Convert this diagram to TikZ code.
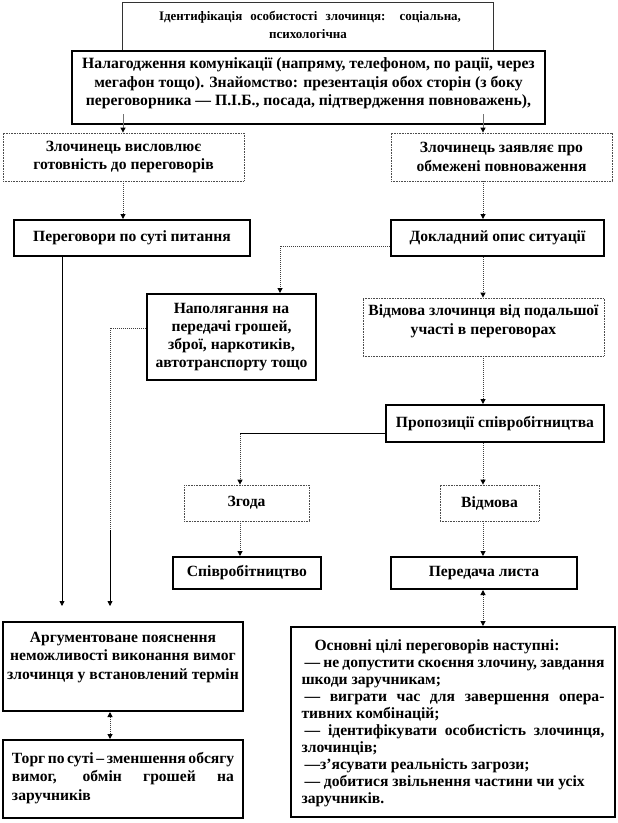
\documentclass[tikz,border=0pt]{standalone}
\usepackage{fontspec}
\setmainfont{Liberation Serif}
\usetikzlibrary{arrows.meta}
\newcommand{\mytopbox}[4]{\parbox[c][#2][t]{#1}{\centering\vspace*{#3}#4}}
\tikzset{
  every node/.style={font=\bfseries\fontsize{15.6}{18.5}\selectfont},
  box/.style={draw=black, line width=2pt, fill=white, inner sep=0pt, align=center},
  dbox/.style={draw=black!70, line width=0.8pt, dash pattern=on 0.8pt off 0.8pt, fill=white, inner sep=0pt, align=center},
  thinbox/.style={draw=black!80, line width=0.8pt, fill=white, inner sep=0pt, align=center},
  tipa/.tip={Triangle[length=5pt,width=5pt,color=black]},
  conn/.style={draw=black!75, line width=1pt, dash pattern=on 1pt off 1pt, -tipa},
  cline/.style={draw=black!75, line width=1pt, dash pattern=on 1pt off 1pt},
  sconn/.style={draw=black, line width=0.8pt, -tipa},
  sline/.style={draw=black, line width=0.8pt},
  gconn/.style={draw=black!55, line width=1pt, -tipa},
  gline/.style={draw=black!55, line width=1pt},
}
\begin{document}
\begin{tikzpicture}[x=1pt,y=-1pt]
\useasboundingbox (0,0) rectangle (618,823);
\fill[white] (0,0) rectangle (618,823);

\coordinate (colL) at (123,0);
\coordinate (colR) at (483,0);
\coordinate (colLL) at (62,0);
\coordinate (colLM) at (110,0);
\coordinate (colM) at (240,0);
\coordinate (colN) at (280,0);
\coordinate (colT) at (302,0);

% top boxes
\node[thinbox, font=\bfseries\fontsize{13}{18}\selectfont] (b1) at (308,27)
  {\mytopbox{371pt}{50pt}{9pt}{\hspace*{4pt}\makebox[302pt][s]{Ідентифікація особистості злочинця: соціальна,}\\психологічна}};
\draw[gline] (b1.south -| colT) -- ++(0,12) coordinate (b1end);
\node[box, font=\bfseries\fontsize{15.7}{18.5}\selectfont] (b2) at (308.5,87.5)
  {\mytopbox{473pt}{73pt}{7pt}{Налагодження комунікації (напряму, телефоном, по рації, через\\
   мегафон тощо). Знайомство: презентація обох сторін (з боку\\
   переговорника — П.І.Б., посада, підтвердження повноважень),}};

\node[dbox, minimum width=241pt, minimum height=48pt] (b3) at (123.5,157)
  {Злочинець висловлює\\готовність до переговорів};
\node[dbox, minimum width=221pt, minimum height=48pt] (b4) at (501.5,157)
  {Злочинець заявляє про\\обмежені повноваження};

\node[box, minimum width=236pt, minimum height=36pt] (b5) at (132,238)
  {Переговори по суті питання};
\node[box, minimum width=213pt, minimum height=36pt] (b6) at (497.5,238)
  {Докладний опис ситуації};

\node[box, minimum width=169pt, minimum height=86pt, font=\bfseries\fontsize{15.6}{18}\selectfont] (b7) at (231.5,337)
  {Наполягання на\\передачі грошей,\\зброї, наркотиків,\\автотранспорту тощо};

\node[dbox] (b8) at (483.5,327)
  {\mytopbox{241pt}{58pt}{7pt}{Відмова злочинця від подальшої\\участі в переговорах}};

\node[box, minimum width=218pt, minimum height=37pt] (b9) at (495,423.5)
  {Пропозиції співробітництва};

\node[dbox, minimum width=125pt, minimum height=36pt] (b10) at (246.5,503) {Згода};
\node[dbox, minimum width=99pt, minimum height=36pt] (b11) at (489.5,503) {Відмова};

\node[box, minimum width=148pt, minimum height=32pt] (b12) at (247,573) {Співробітництво};
\node[box, minimum width=186pt, minimum height=32pt] (b13) at (484,573) {Передача листа};

\node[box] (arg) at (123,666.5)
  {\mytopbox{240pt}{89pt}{10pt}{Аргументоване пояснення\\неможливості виконання вимог\\злочинця у встановлений термін}};

\node[box, inner xsep=9pt] (torg) at (123,779)
  {\parbox[c][78pt][t]{222pt}{\raggedright\vspace*{12pt}%
   \makebox[222pt][s]{Торг по суті – зменшення обсягу}\\
   \makebox[222pt][s]{вимог, обмін грошей на}\\
   заручників}};

\node[box, inner xsep=10.5pt, font=\bfseries\fontsize{15.6}{17}\selectfont] (b14) at (453,722)
  {\parbox[c][190pt][t]{303pt}{\raggedright\vspace*{13pt}%
   \hspace*{13pt}Основні цілі переговорів наступні:\\
   \hspace*{3pt}\makebox[300pt][s]{— не допустити скоєння злочину, завдання}\\
   шкоди заручникам;\\
   \hspace*{3pt}\makebox[300pt][s]{— виграти час для завершення опера-}\\
   тивних комбінацій;\\
   \hspace*{3pt}\makebox[300pt][s]{— ідентифікувати особистість злочинця,}\\
   злочинців;\\
   \hspace*{3pt}—з’ясувати реальність загрози;\\
   \hspace*{3pt}— добитися звільнення частини чи усіх\\
   заручників.}};

% connectors
\draw[gconn] ([yshift=11pt]b2.south -| colL) -- (b3.north -| colL);
\draw[gconn] ([yshift=11pt]b2.south -| colR) -- (b4.north -| colR);
\draw[conn] (b3.south -| colL) -- (b5.north -| colL);
\draw[conn] (b4.south -| colR) -- (b6.north -| colR);
\draw[conn] ([yshift=-8pt]b6.west) -| (b7.north -| colN);
\draw[sconn, shorten >=15pt] (b5.south -| colLL) -- (arg.north -| colLL);
\draw[cline] ([yshift=9pt]b7.west) -| (colLM |- 0,530) coordinate (m1);
\draw[sconn, shorten >=15pt] (m1) -- (arg.north -| colLM);
\draw[conn] (b6.south -| colR) -- (b8.north -| colR);
\draw[conn] (b8.south -| colR) -- (b9.north -| colR);
\draw[sline] ([yshift=-10pt]b9.west) -- ([yshift=-10pt]b9.west -| colM) coordinate (j1);
\draw[conn] (j1) -- (b10.north -| colM);
\draw[conn] (b9.south -| colR) -- (b11.north -| colR);
\draw[conn] (b10.south -| colM) -- (b12.north -| colM);
\draw[conn] (b11.south -| colR) -- (b13.north -| colR);
\draw[conn, tipa-tipa] (b13.south -| colR) -- (b14.north -| colR);
\draw[conn, tipa-tipa] (arg.south -| colLM) -- (torg.north -| colLM);
\end{tikzpicture}
\end{document}
